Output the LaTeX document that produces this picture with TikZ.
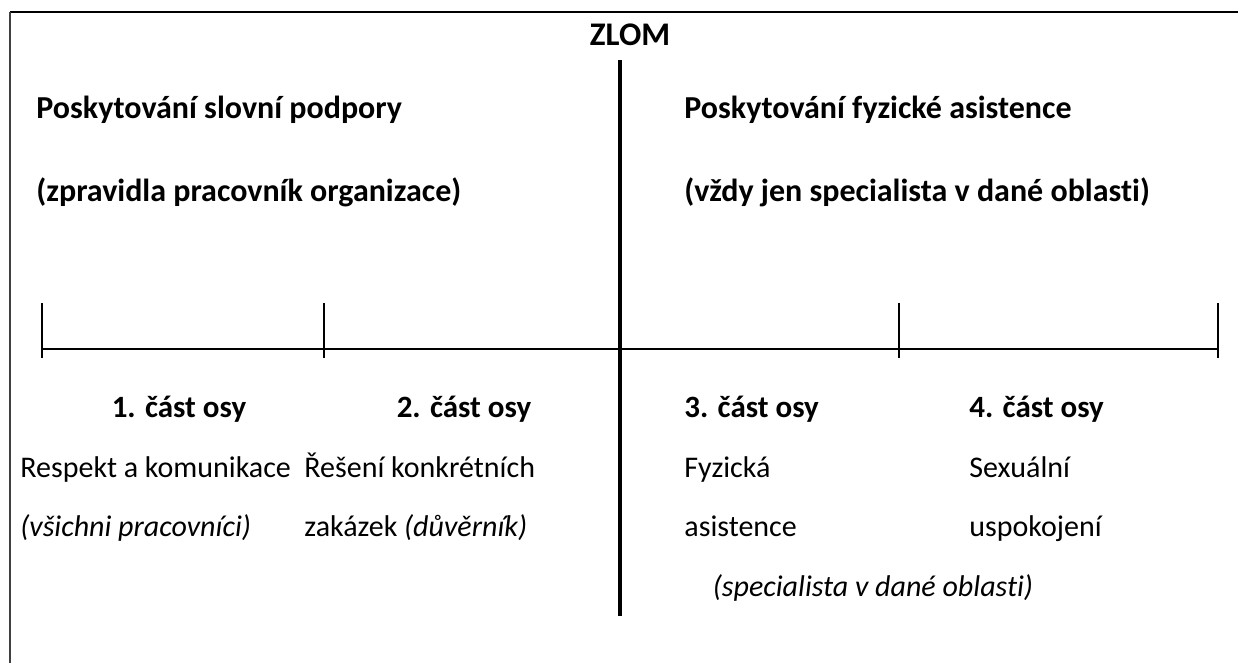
\documentclass[tikz,border=0pt]{standalone}
\usepackage{fontspec}
\setmainfont{Carlito}[RawFeature={-liga;-clig}]
\begin{document}
\begin{tikzpicture}[x=0.5pt,y=-0.5pt,
  txt/.style={inner sep=0pt,font=\fontsize{15}{18}\selectfont},
  lt/.style={txt,anchor=base west},
  bt/.style={lt,font=\fontsize{16}{19}\selectfont\bfseries},
  pt/.style={txt,anchor=base west,font=\fontsize{15.5}{18}\selectfont\bfseries},
  axis/.style={line width=1pt,black},
  tick/.style={line width=1pt,black}]
\useasboundingbox (0,0) rectangle (1238,663);
% frame
\coordinate (fTL) at (10,12);
\coordinate (fTR) at (1238,12);
\coordinate (fBL) at (10,663);
\draw[line width=1.4pt] (fTL) -- (fTR);
\draw[line width=1pt,black!75] (fTL) -- (fBL);
% title
\node[txt,anchor=base,font=\fontsize{16.5}{19}\selectfont\bfseries] (zlom) at (630,46) {ZLOM};
\coordinate (zt) at (620,60);
\coordinate (zb) at (620,616);
\draw[line width=2pt] (zt) -- (zb);
% headers
\node[bt] (h1) at (36,119) {Poskytování slovní podpory};
\node[bt] (h2) at (36,202) {(zpravidla pracovník organizace)};
\node[bt] (h3) at (684,119) {Poskytování fyzické asistence};
\node[bt] (h4) at (684,202) {(vždy jen specialista v dané oblasti)};
% axis
\coordinate (a0) at (42,349);
\coordinate (a4) at (1218,349);
\draw[axis] (a0) -- (a4);
\foreach \x/\n in {42/t0,324/t1,899/t3,1218/t4}{
  \coordinate (\n u) at (\x,303);
  \coordinate (\n d) at (\x,358);
  \draw[tick] (\n u) -- (\n d);
}
% parts
\node[pt,anchor=base] (p1) at (179,418) {1. část osy};
\node[pt,anchor=base] (p2) at (464,418) {2. část osy};
\node[pt] (p3) at (684,418) {3. část osy};
\node[pt] (p4) at (969,418) {4. část osy};
\node[lt] (r1) at (20,477) {Respekt a komunikace};
\node[lt] (r2) at (20,537) {\itshape (všichni pracovníci)};
\node[lt] (s1) at (304,477) {Řešení konkrétních};
\node[lt] (s2) at (304,537) {zakázek \textit{(důvěrník)}};
\node[lt] (f1) at (684,477) {Fyzická};
\node[lt] (f2) at (684,537) {asistence};
\node[lt] (x1) at (969,477) {Sexuální};
\node[lt] (x2) at (969,537) {uspokojení};
\node[txt,anchor=base] (sp) at (873,596) {\itshape (specialista v dané oblasti)};
\end{tikzpicture}
\end{document}
